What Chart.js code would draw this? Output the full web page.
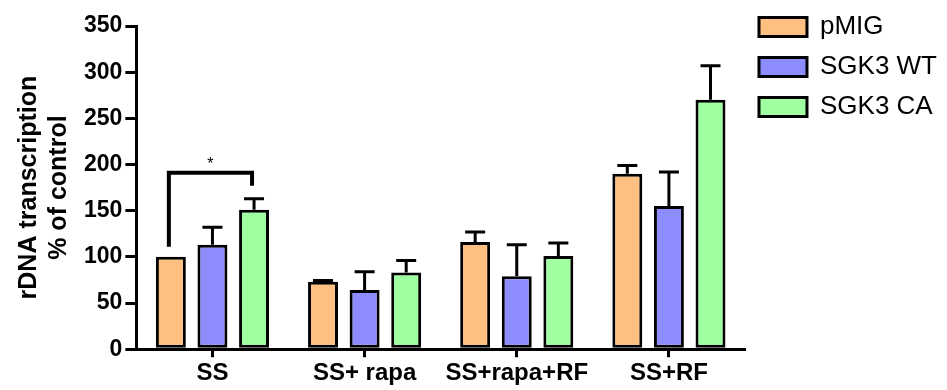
<!DOCTYPE html>
<html>
<head>
<meta charset="utf-8">
<script src="https://cdn.jsdelivr.net/npm/chart.js@4"></script>
<style>
  html, body { margin: 0; padding: 0; background: #fff; }
  #wrap { width: 947px; height: 390px; }
</style>
</head>
<body>
<div id="wrap"><canvas id="chart" width="947" height="390"></canvas></div>
<script>
const categories = ["SS", "SS+ rapa", "SS+rapa+RF", "SS+RF"];
const seriesNames = ["pMIG", "SGK3 WT", "SGK3 CA"];
const pmigValues = [100, 73, 116, 190];
const wtValues = [113, 64, 79, 155];
const caValues = [151, 83, 101, 270];
const pmigErrors = [0, 1.5, 11, 9];
const wtErrors = [19, 20, 34, 37];
const caErrors = [12, 13, 14, 37];
const yTicks = [0, 50, 100, 150, 200, 250, 300, 350];
// significance bracket: category, first and last series, top value, leg ends
const bracketSpan = [0, 0, 2];
const bracketLevels = [191, 111, 177];
const bracketMark = "*";

const colors = ["#FFBF80", "#8C8CFF", "#A0FFA0"];

Chart.defaults.font.family = '"Liberation Sans", Arial, Helvetica, sans-serif';
Chart.defaults.color = "#000";

const errorBars = {
  id: "errorBars",
  afterDatasetsDraw(chart) {
    const ctx = chart.ctx;
    const y = chart.scales.y;
    ctx.save();
    ctx.strokeStyle = "#000";
    ctx.lineWidth = 3;
    chart.data.datasets.forEach((ds, i) => {
      const meta = chart.getDatasetMeta(i);
      meta.data.forEach((bar, j) => {
        const err = ds.errors[j];
        if (!err) return;
        const top = y.getPixelForValue(ds.data[j] + err);
        ctx.beginPath();
        ctx.moveTo(bar.x, bar.y);
        ctx.lineTo(bar.x, top);
        ctx.moveTo(bar.x - 10, top);
        ctx.lineTo(bar.x + 10, top);
        ctx.stroke();
      });
    });

    // bracket
    const [cat, a, b] = bracketSpan;
    const x1 = chart.getDatasetMeta(a).data[cat].x - 2;
    const x2 = chart.getDatasetMeta(b).data[cat].x - 2;
    const yTop = y.getPixelForValue(bracketLevels[0]);
    ctx.lineWidth = 4;
    ctx.beginPath();
    ctx.moveTo(x1, y.getPixelForValue(bracketLevels[1]));
    ctx.lineTo(x1, yTop);
    ctx.lineTo(x2, yTop);
    ctx.lineTo(x2, y.getPixelForValue(bracketLevels[2]));
    ctx.stroke();
    ctx.fillStyle = "#000";
    ctx.font = '16px "Liberation Sans", Arial, sans-serif';
    ctx.textAlign = "center";
    ctx.textBaseline = "middle";
    ctx.fillText(bracketMark, (x1 + x2) / 2, yTop - 8);
    ctx.restore();
  }
};

const values = [pmigValues, wtValues, caValues];
const errors = [pmigErrors, wtErrors, caErrors];

new Chart(document.getElementById("chart"), {
  type: "bar",
  data: {
    labels: categories,
    datasets: seriesNames.map((name, i) => ({
      label: name,
      data: values[i],
      errors: errors[i],
      backgroundColor: colors[i],
      borderColor: "#000",
      borderWidth: 3,
      borderSkipped: false,
      categoryPercentage: 0.82,
      barPercentage: 0.72
    }))
  },
  options: {
    responsive: false,
    animation: false,
    layout: { padding: { left: 14, right: 0, top: 0, bottom: 0 } },
    plugins: {
      tooltip: { enabled: false },
      legend: {
        position: "right",
        align: "start",
        labels: {
          boxWidth: 48,
          boxHeight: 19,
          padding: 14,
          color: "#000",
          font: { size: 26 }
        }
      }
    },
    scales: {
      x: {
        grid: {
          offset: false,
          drawOnChartArea: false,
          drawTicks: true,
          tickLength: 8,
          lineWidth: 3,
          color: "#000"
        },
        border: { display: true, color: "#000", width: 3 },
        ticks: { color: "#000", padding: 2, font: { size: 24, weight: "bold" } }
      },
      y: {
        min: 0,
        max: 350,
        afterBuildTicks(scale) { scale.ticks = yTicks.map(v => ({ value: v })); },
        grid: {
          drawOnChartArea: false,
          drawTicks: true,
          tickLength: 11,
          lineWidth: 3,
          color: "#000"
        },
        border: { display: true, color: "#000", width: 3 },
        ticks: {
          color: "#000",
          padding: 3,
          autoSkip: false,
          font: { size: 23, weight: "bold", lineHeight: 2.0 }
        },
        title: {
          display: true,
          text: ["rDNA transcription", "% of control"],
          color: "#000",
          font: { size: 25, weight: "bold", lineHeight: 1.2 },
          padding: { top: 0, bottom: 7 }
        }
      }
    }
  },
  plugins: [errorBars]
});
</script>
</body>
</html>
